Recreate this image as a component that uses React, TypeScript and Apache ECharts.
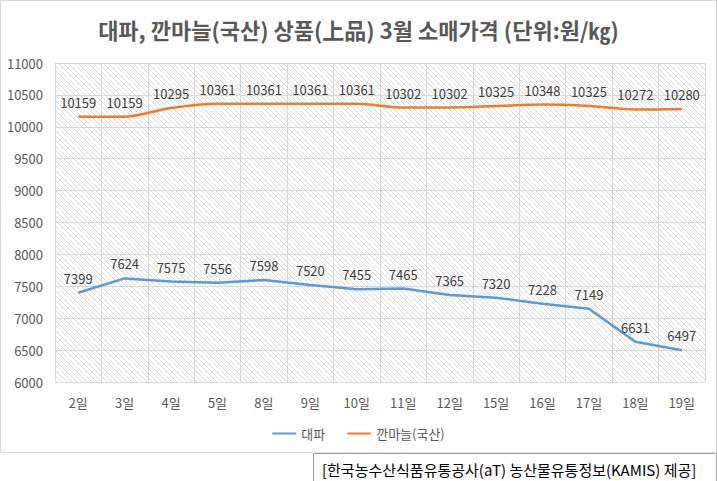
import React, { useEffect, useRef } from "react";
import * as echarts from "echarts";

const categories = ["2일", "3일", "4일", "5일", "8일", "9일", "10일", "11일", "12일", "15일", "16일", "17일", "18일", "19일"];
const greenOnion = [7399, 7624, 7575, 7556, 7598, 7520, 7455, 7465, 7365, 7320, 7228, 7149, 6631, 6497];
const garlic = [10159, 10159, 10295, 10361, 10361, 10361, 10361, 10302, 10302, 10325, 10348, 10325, 10272, 10280];
const seriesNames = ["대파", "깐마늘(국산)"];
const titleText = "대파, 깐마늘(국산) 상품(上品) 3월 소매가격 (단위:원/㎏)";
const sourceText = "[한국농수산식품유통공사(aT) 농산물유통정보(KAMIS) 제공]";

const FONT = "'Noto Sans CJK KR', 'Noto Sans', sans-serif";

function makeHatch(): HTMLCanvasElement {
  const c = document.createElement("canvas");
  c.width = 5;
  c.height = 5;
  const ctx = c.getContext("2d")!;
  ctx.fillStyle = "#ffffff";
  ctx.fillRect(0, 0, 5, 5);
  ctx.strokeStyle = "#dcdcdc";
  ctx.lineWidth = 1;
  ctx.beginPath();
  ctx.moveTo(0, 0);
  ctx.lineTo(5, 5);
  ctx.moveTo(-2.5, 2.5);
  ctx.lineTo(2.5, 7.5);
  ctx.moveTo(2.5, -2.5);
  ctx.lineTo(7.5, 2.5);
  ctx.stroke();
  return c;
}

export default function App() {
  const ref = useRef<HTMLDivElement>(null);
  useEffect(() => {
    if (!ref.current) return;
    const chart = echarts.init(ref.current, undefined, { renderer: "svg" });
    const hatch = makeHatch();
    const labelCfg = { show: true, position: "top", distance: 8, fontFamily: FONT, fontSize: 13, color: "#404040" };
    chart.setOption({
      animation: false,
      backgroundColor: "#ffffff",
      title: {
        text: titleText,
        left: "center",
        top: 13,
        textStyle: { fontFamily: FONT, fontSize: 22, fontWeight: "bold", color: "#595959" },
      },
      legend: {
        bottom: 36,
        left: "center",
        icon: "rect",
        itemWidth: 24,
        itemHeight: 2,
        itemGap: 22,
        textStyle: { fontFamily: FONT, fontSize: 13, color: "#595959" },
        data: seriesNames,
      },
      grid: {
        left: 55,
        right: 12,
        top: 63,
        bottom: 99,
        show: true,
        borderWidth: 0,
        backgroundColor: { image: hatch, repeat: "repeat" },
      },
      xAxis: {
        type: "category",
        data: categories,
        boundaryGap: true,
        axisLine: { lineStyle: { color: "#d9d9d9" } },
        axisTick: { show: false },
        axisLabel: { fontFamily: FONT, fontSize: 13, color: "#595959", margin: 14, interval: 0 },
        splitLine: { show: true, interval: 0, lineStyle: { color: "#d9d9d9" } },
      },
      yAxis: {
        type: "value",
        min: 6000,
        max: 11000,
        interval: 500,
        axisLine: { show: false },
        axisTick: { show: false },
        axisLabel: { fontFamily: FONT, fontSize: 13, color: "#595959", margin: 12, formatter: (v: number) => String(v) },
        splitLine: { lineStyle: { color: "#d9d9d9" } },
      },
      series: [
        {
          name: seriesNames[0],
          type: "line",
          data: greenOnion,
          color: "#5b9bd5",
          lineStyle: { width: 2.5 },
          symbol: "circle",
          symbolSize: 0.01,
          label: labelCfg,
        },
        {
          name: seriesNames[1],
          type: "line",
          data: garlic,
          color: "#ed7d31",
          smooth: 0.3,
          lineStyle: { width: 2.5 },
          symbol: "circle",
          symbolSize: 0.01,
          label: labelCfg,
        },
      ],
      graphic: [
        {
          type: "rect",
          shape: { x: 0.5, y: 0.5, width: 716, height: 452 },
          style: { fill: "none", stroke: "#d9d9d9", lineWidth: 1 },
          silent: true,
        },
        {
          type: "rect",
          shape: { x: 313.5, y: 453.5, width: 403, height: 30 },
          style: { fill: "#ffffff", stroke: "#a6a6a6", lineWidth: 1 },
          silent: true,
        },
        {
          type: "text",
          x: 322,
          y: 469,
          style: {
            text: sourceText,
            fontFamily: FONT,
            fontSize: 15,
            fill: "#000000",
            verticalAlign: "middle",
          },
        },
      ],
    });
    return () => chart.dispose();
  }, []);
  return <div ref={ref} style={{ position: "absolute", left: 0, top: 0, width: 717, height: 481 }} />;
}
